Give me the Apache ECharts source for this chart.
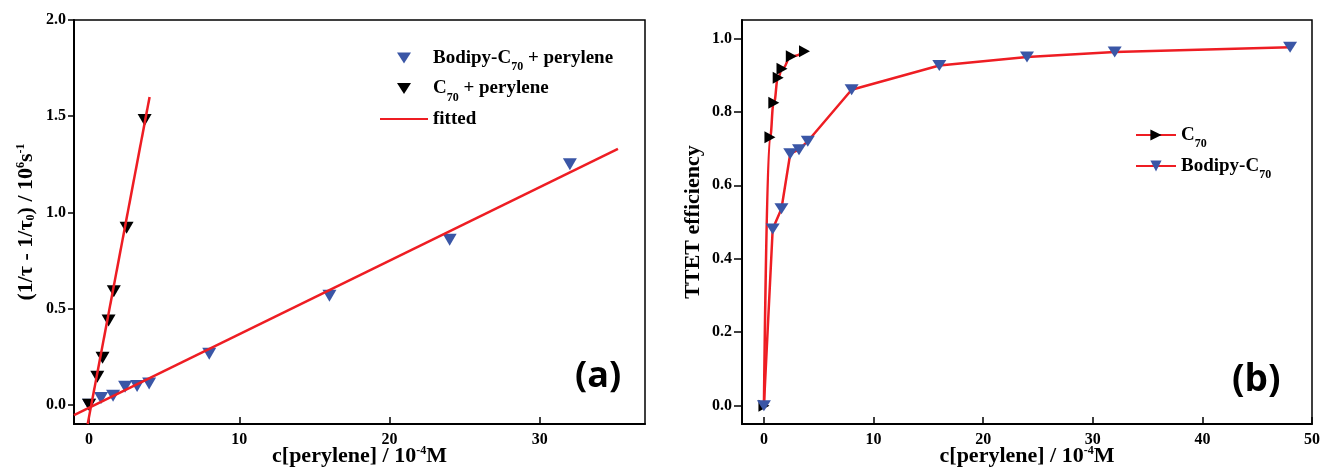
<!DOCTYPE html>
<html>
<head>
<meta charset="utf-8">
<script src="https://cdn.jsdelivr.net/npm/echarts@6/dist/echarts.min.js"></script>
<style>
html, body { margin: 0; padding: 0; background: #fff; }
#chart { width: 1320px; height: 471px; }
</style>
</head>
<body>
<div id="chart"></div>
<script>
// ---- panel (a): (1/tau - 1/tau0) vs perylene concentration ----
var bodipyConc = [0, 0.8, 1.6, 2.4, 3.2, 4.0, 8, 16, 24, 32];
var bodipyRate = [0, 0.035, 0.047, 0.094, 0.097, 0.11, 0.265, 0.566, 0.858, 1.25];
var c70Conc = [0, 0.55, 0.9, 1.3, 1.65, 2.5, 3.7];
var c70Rate = [0, 0.146, 0.245, 0.438, 0.59, 0.92, 1.48];
// end points of the two fitted lines
var fitSteepX = [-0.09, 4.03];
var fitSteepY = [-0.1, 1.6];
var fitFlatX = [-1, 35.2];
var fitFlatY = [-0.054, 1.33];

// ---- panel (b): TTET efficiency ----
var effC70Conc = [0, 0.55, 0.9, 1.3, 1.65, 2.5, 3.7];
var effC70 = [0, 0.731, 0.825, 0.893, 0.917, 0.951, 0.965];
var effBodipyConc = [0, 0.8, 1.6, 2.4, 3.2, 4.0, 8, 16, 24, 32, 48];
var effBodipy = [0, 0.481, 0.536, 0.686, 0.697, 0.72, 0.86, 0.926, 0.949, 0.963, 0.976];

// tick values
var xTicksA = [0, 10, 20, 30];
var yTicksA = [0, 0.5, 1.0, 1.5, 2.0];
var xTicksB = [0, 10, 20, 30, 40, 50];
var yTicksB = [0, 0.2, 0.4, 0.6, 0.8, 1.0];

var serif = '"Liberation Serif", "Times New Roman", serif';
var red = '#ee1d23';
var blue = '#3a56a6';
var downTri = 'path://M0,0L14,0L7,11Z';

function pairs(xs, ys) {
    var out = [];
    for (var i = 0; i < xs.length; i++) {
        out.push([xs[i], ys[i]]);
    }
    return out;
}

// C70 -> C{sub|70} for legend texts
function subFmt(name) {
    return name.replace('C70', 'C{sub|70}');
}

var subStyle = { fontSize: 12, fontFamily: serif, fontWeight: 'bold', color: '#000', verticalAlign: 'bottom', lineHeight: 12 };
var supStyle = { fontSize: 12, fontFamily: serif, fontWeight: 'bold', color: '#000', verticalAlign: 'top', lineHeight: 12 };

function xAxis(grid, min, max, ticks) {
    return {
        type: 'value', gridIndex: grid, min: min, max: max,
        axisLine: { onZero: false, lineStyle: { color: '#000', width: 2 } },
        axisTick: { inside: true, length: 7, customValues: ticks, lineStyle: { color: '#000', width: 1.5 } },
        axisLabel: {
            customValues: ticks, margin: 8, color: '#000',
            fontFamily: serif, fontWeight: 'bold', fontSize: 16
        },
        splitLine: { show: false },
        name: 'c[perylene] / 10{sup|-4}M',
        nameLocation: 'middle',
        nameGap: 21,
        nameMoveOverlap: false,
        nameTextStyle: {
            color: '#000', fontFamily: serif, fontWeight: 'bold', fontSize: 22,
            rich: { sup: supStyle }
        }
    };
}

function yAxis(grid, min, max, ticks, name, gap, tickLen, margin) {
    return {
        type: 'value', gridIndex: grid, min: min, max: max,
        axisLine: { onZero: false, lineStyle: { color: '#000', width: 2 } },
        axisTick: { inside: false, length: tickLen, customValues: ticks, lineStyle: { color: '#000', width: 1.5 } },
        axisLabel: {
            customValues: ticks, margin: margin, color: '#000',
            fontFamily: serif, fontWeight: 'bold', fontSize: 16,
            formatter: function (v) { return v.toFixed(1); }
        },
        splitLine: { show: false },
        name: name,
        nameLocation: 'middle',
        nameGap: gap,
        nameMoveOverlap: false,
        nameTextStyle: {
            color: '#000', fontFamily: serif, fontWeight: 'bold', fontSize: 22,
            rich: { sup: supStyle, sub: subStyle }
        }
    };
}

var chart = echarts.init(document.getElementById('chart'));
chart.setOption({
    animation: false,
    backgroundColor: '#fff',
    grid: [
        { left: 74, top: 20, right: 675, bottom: 47, outerBoundsMode: 'none', show: true, borderColor: '#000', borderWidth: 1.5 },
        { left: 742, top: 20, right: 8, bottom: 47, outerBoundsMode: 'none', show: true, borderColor: '#000', borderWidth: 1.5 }
    ],
    xAxis: [
        xAxis(0, -1, 37, xTicksA),
        xAxis(1, -2, 50, xTicksB)
    ],
    yAxis: [
        yAxis(0, -0.1, 2.0, yTicksA, '(1/τ - 1/τ{sub|0}) / 10{sup|6}s{sup|-1}', 37, 6, 8),
        yAxis(1, -0.05, 1.05, yTicksB, 'TTET efficiency', 38, 8, 10)
    ],
    legend: [
        {
            orient: 'vertical', left: 379, top: 43, padding: 0,
            itemWidth: 48, itemHeight: 11, itemGap: 0.5,
            selectedMode: false,
            data: [
                { name: 'Bodipy-C70 + perylene', icon: downTri },
                { name: 'C70 + perylene', icon: downTri },
                'fitted'
            ],
            formatter: subFmt,
            textStyle: {
                color: '#000', fontFamily: serif, fontWeight: 'bold', fontSize: 19, lineHeight: 30,
                rich: { sub: subStyle }
            }
        },
        {
            orient: 'vertical', left: 1135, top: 120, padding: 0,
            itemWidth: 40, itemHeight: 14, itemGap: 1,
            selectedMode: false,
            data: ['C70', 'Bodipy-C70'],
            formatter: subFmt,
            textStyle: {
                color: '#000', fontFamily: serif, fontWeight: 'bold', fontSize: 19, lineHeight: 30,
                rich: { sub: subStyle }
            }
        }
    ],
    graphic: [
        { type: 'text', left: 575, top: 359, style: { text: '(a)', font: 'bold 36px "Open Sans"', fill: '#000' } },
        { type: 'text', left: 1232, top: 362, style: { text: '(b)', font: 'bold 37px "Open Sans"', fill: '#000' } }
    ],
    series: [
        // panel (a)
        {
            type: 'scatter', name: 'Bodipy-C70 + perylene', xAxisIndex: 0, yAxisIndex: 0,
            data: pairs(bodipyConc, bodipyRate),
            symbol: 'triangle', symbolRotate: 180, symbolSize: [14, 12],
            itemStyle: { color: blue, opacity: 1 }
        },
        {
            type: 'scatter', name: 'C70 + perylene', xAxisIndex: 0, yAxisIndex: 0,
            data: pairs(c70Conc, c70Rate),
            symbol: 'triangle', symbolRotate: 180, symbolSize: [14, 12],
            itemStyle: { color: '#000', opacity: 1 }
        },
        {
            type: 'line', name: 'fitted', xAxisIndex: 0, yAxisIndex: 0,
            data: pairs(fitSteepX, fitSteepY), symbol: 'none',
            itemStyle: { color: 'transparent' },
            lineStyle: { color: red, width: 2.5 }
        },
        {
            type: 'line', name: 'fitted', xAxisIndex: 0, yAxisIndex: 0,
            data: pairs(fitFlatX, fitFlatY), symbol: 'none',
            itemStyle: { color: 'transparent' },
            lineStyle: { color: red, width: 2.5 }
        },
        // panel (b)
        {
            type: 'line', name: 'C70', xAxisIndex: 1, yAxisIndex: 1,
            data: pairs(effC70Conc, effC70),
            smooth: 0.5, smoothMonotone: 'x',
            symbol: 'triangle', symbolRotate: -90, symbolSize: [12, 11],
            itemStyle: { color: '#000' },
            lineStyle: { color: red, width: 2.5 }
        },
        {
            type: 'line', name: 'Bodipy-C70', xAxisIndex: 1, yAxisIndex: 1,
            data: pairs(effBodipyConc, effBodipy),
            symbol: 'triangle', symbolRotate: 180, symbolSize: [14, 11],
            itemStyle: { color: blue },
            lineStyle: { color: red, width: 2.5 }
        }
    ]
});
</script>
</body>
</html>
